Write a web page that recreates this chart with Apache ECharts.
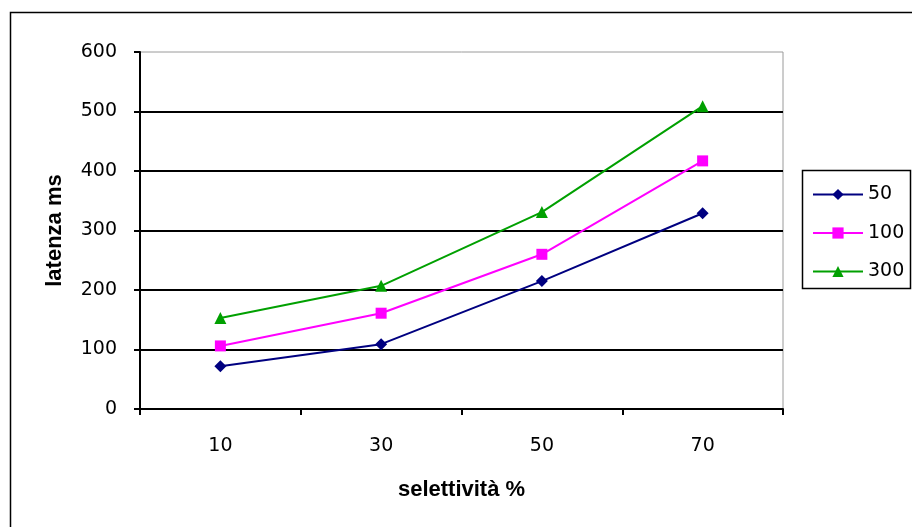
<!DOCTYPE html>
<html>
<head>
<meta charset="utf-8">
<script src="https://cdn.jsdelivr.net/npm/echarts@6/dist/echarts.min.js"></script>
<style>
  html, body { margin: 0; padding: 0; background: #fff; }
  #chart { width: 912px; height: 527px; }
</style>
</head>
<body>
<div id="chart"></div>
<script>
// Selectivity (%) on the x axis
const categories = ['10', '30', '50', '70'];
// Latency (ms) per series
const s50 = [72, 109, 215, 329];
const s100 = [106, 161, 260, 417];
const s300 = [153, 207, 331, 509];
const seriesNames = ['50', '100', '300'];

const numFont = 'DejaVu Sans, Liberation Sans, sans-serif';
const titleFont = 'Liberation Sans, Arial, sans-serif';
const chart = echarts.init(document.getElementById('chart'));

function lineSeries(name, data, color, symbol, size) {
  return {
    name: name,
    type: 'line',
    data: data,
    symbol: symbol,
    symbolSize: size,
    showSymbol: true,
    lineStyle: { color: color, width: 2 },
    itemStyle: { color: color },
    emphasis: { disabled: true },
    animation: false
  };
}

chart.setOption({
  animation: false,
  backgroundColor: '#ffffff',
  graphic: [
    {
      // outer chart frame
      type: 'rect',
      shape: { x: 10.5, y: 12.5, width: 1000, height: 1000 },
      style: { fill: 'none', stroke: '#000', lineWidth: 1.5 },
      z: -1
    },
    {
      // legend frame
      type: 'rect',
      shape: { x: 802.5, y: 170.5, width: 108, height: 118 },
      style: { fill: '#fff', stroke: '#000', lineWidth: 1.5 },
      z: 0
    }
  ],
  grid: {
    left: 140, right: 129, top: 52, bottom: 118,
    show: true, borderColor: '#9a9a9a', borderWidth: 1
  },
  legend: {
    orient: 'vertical',
    left: 802, top: 170,
    padding: [15, 6, 10, 10],
    itemGap: 19.5,
    itemWidth: 50, itemHeight: 14,
    data: seriesNames,
    z: 5,
    textStyle: { fontFamily: numFont, fontSize: 19, color: '#000' }
  },
  xAxis: {
    type: 'category',
    data: categories,
    boundaryGap: true,
    name: 'selettività %',
    nameLocation: 'middle',
    nameGap: 70,
    nameTextStyle: { fontFamily: titleFont, fontSize: 22, fontWeight: 'bold', color: '#000' },
    axisLine: { lineStyle: { color: '#000', width: 2 } },
    axisTick: { show: true, length: 6, inside: false, lineStyle: { color: '#000', width: 2 } },
    axisLabel: { fontFamily: numFont, fontSize: 19, color: '#000', margin: 28 },
    splitLine: { show: false }
  },
  yAxis: {
    type: 'value',
    min: 0, max: 600, interval: 100,
    name: 'latenza ms',
    nameLocation: 'middle',
    nameGap: 74,
    nameRotate: 90,
    nameTextStyle: { fontFamily: titleFont, fontSize: 22, fontWeight: 'bold', color: '#000' },
    axisLine: { show: true, lineStyle: { color: '#000', width: 2 } },
    axisTick: { show: true, length: 6, inside: false, lineStyle: { color: '#000', width: 2 } },
    axisLabel: { fontFamily: numFont, fontSize: 19, color: '#000', margin: 23 },
    splitLine: { show: true, showMaxLine: false, showMinLine: false, lineStyle: { color: '#000', width: 2 } }
  },
  series: [
    lineSeries('50', s50, '#000080', 'diamond', 12),
    lineSeries('100', s100, '#ff00ff', 'rect', 11),
    lineSeries('300', s300, '#00a000', 'triangle', 12)
  ]
});
</script>
</body>
</html>
